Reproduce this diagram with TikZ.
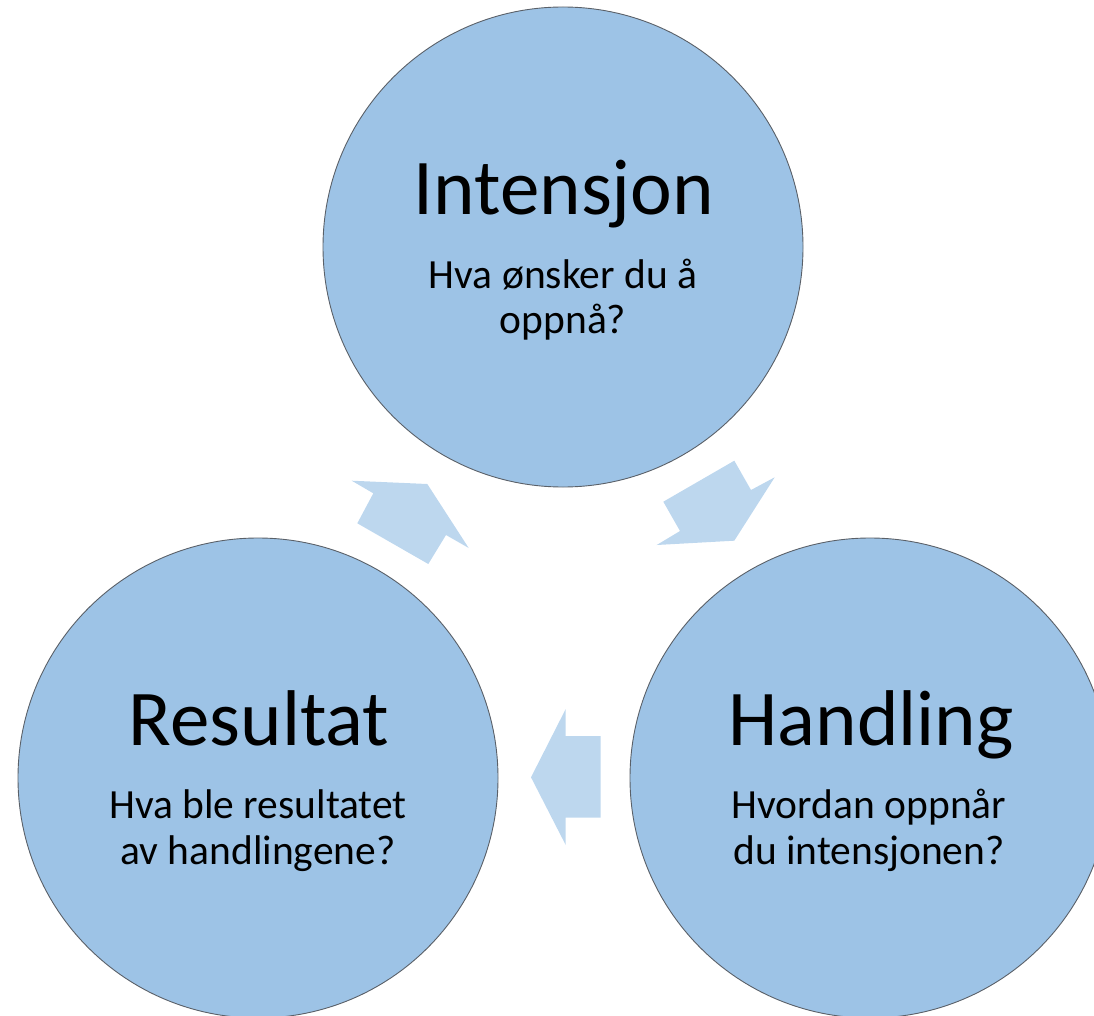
\documentclass[tikz,border=0pt]{standalone}
\usepackage{fontspec}
\setmainfont{Carlito}
\definecolor{circlefill}{RGB}{157,195,230}
\definecolor{arrowfill}{RGB}{189,215,238}
\definecolor{circleline}{RGB}{90,96,104}
\begin{document}
\begin{tikzpicture}[x=1pt,y=-1pt,
  stage/.style={circle,fill=circlefill,draw=circleline,line width=0.9pt,minimum size=480pt,inner sep=0pt},
  cyclearrow/.style={fill=arrowfill,draw=none},
  title/.style={anchor=base,font=\fontsize{79}{80}\selectfont,inner sep=0pt},
  question/.style={anchor=base,font=\fontsize{41.5}{44}\selectfont,inner sep=0pt}]
\useasboundingbox (0,0) rectangle (1094,1016);
\clip (0,0) rectangle (1094,1016);

% stages of the cycle
\node[stage] (intensjon) at (563,247) {};
\node[stage] (handling) at (870,778) {};
\node[stage] (resultat) at (258,778) {};

% block arrows between the stages
\fill[cyclearrow] (734.3,460.7) -- (751,490) -- (774.7,477.3) -- (734.3,540.7)
  -- (656.7,545) -- (680,531) -- (663.3,501.7) -- cycle;
\fill[cyclearrow] (565.7,709) -- (565.7,736) -- (600.7,736) -- (600.7,817.7)
  -- (565.7,817.7) -- (565.7,845) -- (531,777.3) -- cycle;
\fill[cyclearrow] (351.7,480.7) -- (427.3,484) -- (468.7,548) -- (446,535)
  -- (428.3,564) -- (357.3,523.3) -- (373.3,493.3) -- cycle;

% texts
\node[title] (t1) at (564,215) {Intensjon};
\node[question] (q1a) at (563,288) {Hva ønsker du å};
\node[question] (q1b) at (563,333) {oppnå?};

\node[title] (t2) at (871,745) {Handling};
\node[question] (q2a) at (869,818) {Hvordan oppnår};
\node[question] (q2b) at (869,864) {du intensjonen?};

\node[title] (t3) at (259,745) {Resultat};
\node[question] (q3a) at (258,818) {Hva ble resultatet};
\node[question] (q3b) at (258,864) {av handlingene?};
\end{tikzpicture}
\end{document}
